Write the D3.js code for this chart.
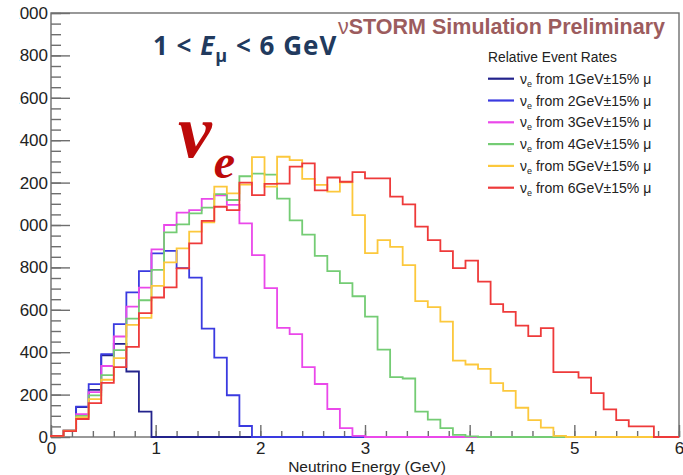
<!DOCTYPE html>
<html>
<head>
<meta charset="utf-8">
<script src="https://cdn.jsdelivr.net/npm/d3@7"></script>
<style>
  html, body { margin: 0; padding: 0; background: #fff; }
  svg { display: block; }
</style>
</head>
<body>
<svg id="chart" width="683" height="475"></svg>
<script>
// Binning: 50 bins of 0.12 GeV across 0-6 GeV
const binWidth = 0.12;
const binLow = d3.range(50).map(i => +(i * binWidth).toFixed(2));

// Relative nu_e event rates per bin, one array per parent muon energy
const nue1GeV = [5, 30, 141, 222, 385, 439, 309, 120, 0, 0,
  0, 0, 0, 0, 0, 0, 0, 0, 0, 0,
  0, 0, 0, 0, 0, 0, 0, 0, 0, 0,
  0, 0, 0, 0, 0, 0, 0, 0, 0, 0,
  0, 0, 0, 0, 0, 0, 0, 0, 0, 0];
const nue2GeV = [5, 30, 143, 249, 391, 532, 682, 782, 866, 878,
  797, 752, 511, 374, 197, 52, 0, 0, 0, 0,
  0, 0, 0, 0, 0, 0, 0, 0, 0, 0,
  0, 0, 0, 0, 0, 0, 0, 0, 0, 0,
  0, 0, 0, 0, 0, 0, 0, 0, 0, 0];
const nue3GeV = [5, 30, 108, 212, 335, 474, 615, 705, 885, 1000,
  1058, 1070, 1123, 1140, 1095, 1008, 858, 702, 515, 485,
  330, 250, 132, 42, 5, 0, 0, 0, 0, 0,
  0, 0, 0, 0, 0, 0, 0, 0, 0, 0,
  0, 0, 0, 0, 0, 0, 0, 0, 0, 0];
const nue4GeV = [5, 30, 100, 196, 292, 410, 558, 645, 788, 965,
  1003, 1055, 1082, 1146, 1118, 1230, 1242, 1238, 1124, 1022,
  955, 854, 782, 726, 664, 568, 412, 282, 276, 120,
  82, 42, 10, 3, 0, 0, 0, 0, 0, 0,
  0, 0, 0, 0, 0, 0, 0, 0, 0, 0];
const nue5GeV = [5, 30, 92, 179, 270, 372, 529, 562, 713, 824,
  890, 969, 1013, 1181, 1149, 1190, 1320, 1181, 1322, 1306,
  1218, 1189, 1157, 1201, 1047, 867, 929, 897, 811, 641,
  613, 544, 360, 342, 321, 254, 218, 138, 80, 44,
  5, 0, 0, 0, 0, 0, 0, 0, 0, 0];
const nue6GeV = [5, 28, 85, 160, 255, 330, 425, 584, 658, 706,
  795, 913, 1019, 1086, 1070, 1200, 1141, 1194, 1195, 1275,
  1291, 1163, 1224, 1204, 1249, 1220, 1220, 1134, 1097, 992,
  929, 877, 797, 832, 733, 627, 590, 525, 476, 514,
  306, 306, 280, 207, 130, 80, 50, 50, 0, 0];

const seriesNames = ["1GeV", "2GeV", "3GeV", "4GeV", "5GeV", "6GeV"];
const seriesValues = [nue1GeV, nue2GeV, nue3GeV, nue4GeV, nue5GeV, nue6GeV];
const seriesColors = ["#23238c", "#3a3ae0", "#ea48ea", "#74cc74", "#fcc83c", "#ee3a3a"];

const xTickValues = [0, 1, 2, 3, 4, 5, 6];
const yTickValues = [0, 200, 400, 600, 800, 1000, 1200, 1400, 1600, 1800, 2000];

const svg = d3.select("#chart");
const W = 683, H = 475;
svg.append("rect").attr("width", W).attr("height", H).attr("fill", "#fff");

const plot = { left: 51, right: 679, top: 13, bottom: 437 };
const x = d3.scaleLinear().domain([0, 6]).range([plot.left, plot.right]);
const y = d3.scaleLinear().domain([0, 2000]).range([plot.bottom, plot.top]);

// Visible window on the left edge of the page
svg.append("defs").append("clipPath").attr("id", "leftcut")
  .append("rect").attr("x", 19).attr("y", 0).attr("width", W - 19).attr("height", H);

const axisFont = "'Liberation Sans', Arial, Helvetica, sans-serif";
const frameColor = "#6e6e6e";

// Frame
svg.append("rect")
  .attr("x", plot.left).attr("y", plot.top)
  .attr("width", plot.right - plot.left).attr("height", plot.bottom - plot.top)
  .attr("fill", "none").attr("stroke", frameColor).attr("stroke-width", 1.4);

// Y axis: major ticks with labels, minor ticks every 50
const yMinor = svg.append("g").attr("transform", `translate(${plot.left},0)`)
  .call(d3.axisLeft(y).tickValues(d3.range(0, 2001, 50)).tickSize(-10).tickFormat(""));
const yMajor = svg.append("g").attr("clip-path", "url(#leftcut)")
  .append("g").attr("transform", `translate(${plot.left},0)`)
  .call(d3.axisLeft(y).tickValues(yTickValues).tickSize(-19).tickPadding(3).tickFormat(d3.format("d")));

// X axis: major ticks with labels, minor ticks every 0.2 GeV
const xMinor = svg.append("g").attr("transform", `translate(0,${plot.bottom})`)
  .call(d3.axisBottom(x).tickValues(d3.range(0, 30.5, 1).map(v => v / 5)).tickSize(-6).tickFormat(""));
const xMajor = svg.append("g").attr("transform", `translate(0,${plot.bottom})`)
  .call(d3.axisBottom(x).tickValues(xTickValues).tickSize(-12).tickPadding(5).tickFormat(d3.format("d")));

[yMinor, yMajor, xMinor, xMajor].forEach(g => {
  g.select(".domain").remove();
  g.selectAll(".tick line").attr("stroke", frameColor).attr("stroke-width", 1.4);
  g.selectAll(".tick text").attr("fill", "#222").attr("font-family", axisFont).attr("font-size", 17);
});

// Axis title
svg.append("text")
  .attr("x", (plot.left + plot.right) / 2 + 2).attr("y", 471.7)
  .attr("text-anchor", "middle")
  .attr("font-family", axisFont).attr("font-size", 15.5).attr("fill", "#222")
  .text("Neutrino Energy (GeV)");

// Step histograms
const line = d3.line()
  .x(d => x(d.e)).y(d => y(d.v))
  .curve(d3.curveStepAfter);

const histGroup = svg.append("g");
seriesValues.forEach((vals, si) => {
  const pts = [{ e: 0, v: 0 }];
  vals.forEach((v, i) => pts.push({ e: binLow[i], v }));
  pts.push({ e: 6, v: vals[vals.length - 1] });
  histGroup.append("path")
    .attr("d", line(pts))
    .attr("fill", "none")
    .attr("stroke", seriesColors[si])
    .attr("stroke-width", 1.8)
    .attr("stroke-linejoin", "miter");
});

// Header text
const header = svg.append("text")
  .attr("x", 338).attr("y", 33.5)
  .attr("font-family", axisFont).attr("font-size", 21.5).attr("fill", "#9c5c5e");
header.append("tspan").attr("font-weight", "normal").text("ν");
header.append("tspan").attr("font-weight", "bold").text("STORM Simulation Preliminary");

// Muon energy range
const range = svg.append("text")
  .attr("x", 153).attr("y", 54.5)
  .attr("font-family", "'Open Sans', Lato, sans-serif").attr("font-weight", "bold")
  .attr("font-size", 26).attr("letter-spacing", 1).attr("fill", "#213a5e");
range.append("tspan").text("1 < ");
range.append("tspan").attr("font-style", "italic").text("E");
range.append("tspan").attr("font-size", 18).attr("dy", 7).text("μ");
range.append("tspan").attr("dy", -7).text(" < 6 GeV");

// Big nu_e label
const nue = svg.append("text")
  .attr("x", 178).attr("y", 157)
  .attr("font-family", "'Liberation Serif', 'DejaVu Serif', serif")
  .attr("font-weight", "bold").attr("font-style", "italic")
  .attr("fill", "#bd0a0a");
nue.append("tspan").attr("font-size", 76).text("ν");
nue.append("tspan").attr("font-size", 48).attr("dx", 2).attr("dy", 21).text("e");

// Legend
const legend = svg.append("g").attr("font-family", axisFont).attr("fill", "#222");
legend.append("text").attr("x", 488).attr("y", 62).attr("font-size", 13.8).text("Relative Event Rates");
seriesNames.forEach((name, i) => {
  const ly = 78.7 + i * 21.8;
  legend.append("line")
    .attr("x1", 488).attr("x2", 514).attr("y1", ly).attr("y2", ly)
    .attr("stroke", seriesColors[i]).attr("stroke-width", 2.2);
  const t = legend.append("text").attr("x", 520).attr("y", ly + 5).attr("font-size", 14);
  t.append("tspan").text("ν");
  t.append("tspan").attr("font-size", 9).attr("dy", 3).text("e");
  t.append("tspan").attr("dy", -3).text(` from ${name}±15% μ`);
});
</script>
</body>
</html>
